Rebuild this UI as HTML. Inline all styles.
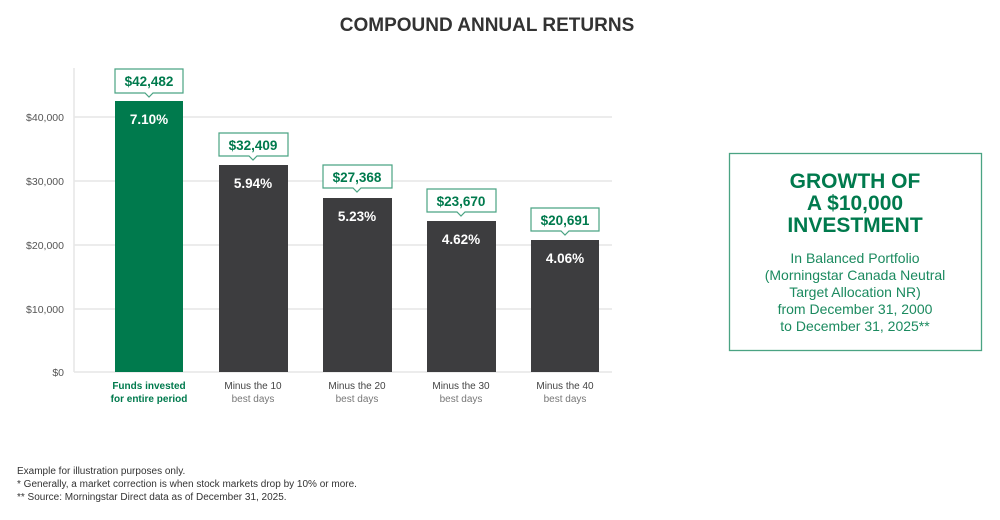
<!DOCTYPE html>
<html><head><meta charset="utf-8"><style>
body{margin:0;background:#fff;width:1000px;height:515px;overflow:hidden;font-family:"Liberation Sans",sans-serif}
</style></head><body>
<svg width="1000" height="515" xmlns="http://www.w3.org/2000/svg" font-family="Liberation Sans, sans-serif">
<text x="487" y="31" text-anchor="middle" font-size="19" font-weight="bold" fill="#333">COMPOUND ANNUAL RETURNS</text>
<g stroke="#e6e6e6" stroke-width="1.5">
<line x1="74" y1="117" x2="612" y2="117"/><line x1="74" y1="181" x2="612" y2="181"/>
<line x1="74" y1="245" x2="612" y2="245"/><line x1="74" y1="309" x2="612" y2="309"/>
<line x1="74" y1="372" x2="612" y2="372"/><line x1="74" y1="68" x2="74" y2="372"/>
</g>
<g font-size="10.5" fill="#555" text-anchor="end">
<text x="64" y="121">$40,000</text><text x="64" y="185">$30,000</text><text x="64" y="249">$20,000</text><text x="64" y="313">$10,000</text><text x="64" y="376">$0</text>
</g>
<rect x="115" y="101" width="68" height="271" fill="#007a4d"/>
<rect x="219" y="165" width="69" height="207" fill="#3d3d3f"/>
<rect x="323" y="198" width="69" height="174" fill="#3d3d3f"/>
<rect x="427" y="221" width="69" height="151" fill="#3d3d3f"/>
<rect x="531" y="240" width="68" height="132" fill="#3d3d3f"/>
<g font-size="13.5" font-weight="bold" fill="#fff" text-anchor="middle">
<text x="149" y="124">7.10%</text><text x="253" y="188">5.94%</text><text x="357" y="221">5.23%</text><text x="461" y="244">4.62%</text><text x="565" y="263">4.06%</text>
</g>
<g fill="#fff" stroke="#4aa383" stroke-width="1.2">
<path d="M115,69H183V93H153L149,97L145,93H115Z"/>
<path d="M219,133H288V156H257L253,160L249,156H219Z"/>
<path d="M323,165H392V188H361L357,192L353,188H323Z"/>
<path d="M427,189H496V212H465L461,216L457,212H427Z"/>
<path d="M531,208H599V231H569L565,235L561,231H531Z"/>
</g>
<g font-size="13.5" font-weight="bold" fill="#007a4d" text-anchor="middle">
<text x="149" y="86">$42,482</text><text x="253" y="150">$32,409</text><text x="357" y="182">$27,368</text><text x="461" y="206">$23,670</text><text x="565" y="225">$20,691</text>
</g>
<g font-size="10" text-anchor="middle">
<text x="149" y="389" fill="#007a4d" font-weight="bold">Funds invested</text><text x="149" y="402" fill="#007a4d" font-weight="bold">for entire period</text>
<text x="253" y="389" fill="#444">Minus the 10</text><text x="253" y="402" fill="#777">best days</text>
<text x="357" y="389" fill="#444">Minus the 20</text><text x="357" y="402" fill="#777">best days</text>
<text x="461" y="389" fill="#444">Minus the 30</text><text x="461" y="402" fill="#777">best days</text>
<text x="565" y="389" fill="#444">Minus the 40</text><text x="565" y="402" fill="#777">best days</text>
</g>
<rect x="729.5" y="153.5" width="252" height="197" fill="none" stroke="#4aa383" stroke-width="1.3"/>
<g text-anchor="middle" fill="#007a4d">
<text x="855" y="188" font-size="21" font-weight="bold">GROWTH OF</text>
<text x="855" y="210" font-size="21" font-weight="bold">A $10,000</text>
<text x="855" y="232" font-size="21" font-weight="bold">INVESTMENT</text>
<g font-size="14" fill="#1b8a5f"><text x="855" y="263">In Balanced Portfolio</text><text x="855" y="280">(Morningstar Canada Neutral</text><text x="855" y="297">Target Allocation NR)</text><text x="855" y="314">from December 31, 2000</text><text x="855" y="331">to December 31, 2025**</text></g>
</g>
<g font-size="10" fill="#333">
<text x="17" y="474">Example for illustration purposes only.</text>
<text x="17" y="487">*  Generally, a market correction is when stock markets drop by 10% or more.</text>
<text x="17" y="500">** Source: Morningstar Direct data as of December 31, 2025.</text>
</g>
</svg>
</body></html>
